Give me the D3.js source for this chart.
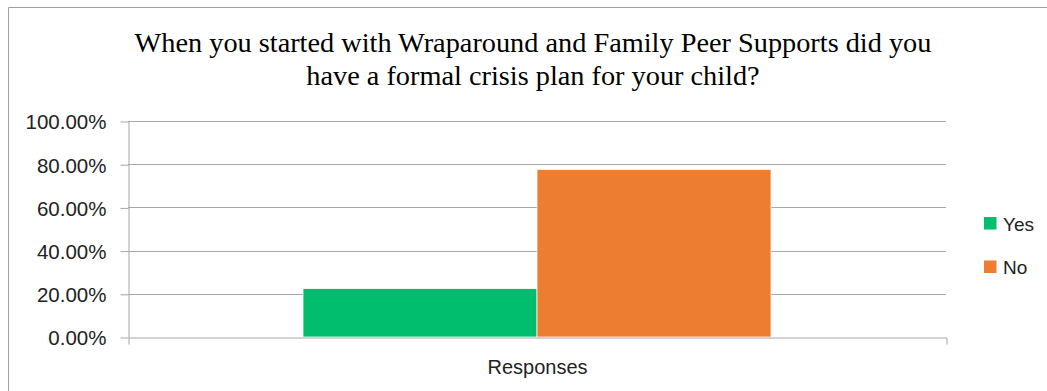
<!DOCTYPE html>
<html>
<head>
<meta charset="utf-8">
<script src="https://cdn.jsdelivr.net/npm/d3@7"></script>
<style>
  html, body { margin: 0; padding: 0; background: #fff; }
  svg { display: block; }
</style>
</head>
<body>
<svg id="chart" width="1047" height="391"></svg>
<script>
// ---- data ----
const categories = ["Responses"];
const seriesNames = ["Yes", "No"];
const seriesValues = [0.224, 0.776];
const seriesColors = ["#00be6e", "#ed7d31"];
const yTicks = [0, 0.2, 0.4, 0.6, 0.8, 1.0];
const titleLines = [
  "When you started with Wraparound and Family Peer Supports did you",
  "have a formal crisis plan for your child?"
];

// ---- layout ----
const svg = d3.select("#chart");
const plot = { left: 128, right: 946, top: 121, bottom: 337 };
const gridColor = "#a6a6a6";
const sans = "'Liberation Sans', Arial, sans-serif";

// chart frame (cropped on right/bottom in the reference)
svg.append("path")
  .attr("d", "M8.5,391V7.5H1047")
  .attr("fill", "none")
  .attr("stroke", "#a0a0a0")
  .attr("stroke-width", 1);

// title
svg.append("g").selectAll("text").data(titleLines).join("text")
  .attr("x", 533)
  .attr("y", (d, i) => 52 + i * 32.5)
  .attr("text-anchor", "middle")
  .attr("font-family", "'Liberation Serif', 'Times New Roman', serif")
  .attr("font-size", 28.3)
  .attr("fill", "#000")
  .text(d => d);

// scales
const y = d3.scaleLinear().domain([0, 1]).range([plot.bottom, plot.top]);
const x0 = d3.scaleBand().domain(categories).range([plot.left, plot.right])
  .paddingInner(0).paddingOuter(0.374);
const x1 = d3.scaleBand().domain(seriesNames).range([0, x0.bandwidth()]).padding(0);

// gridlines
svg.append("g").selectAll("line").data(yTicks.filter(t => t > 0)).join("line")
  .attr("x1", plot.left).attr("x2", plot.right)
  .attr("y1", d => Math.round(y(d)) + 0.5).attr("y2", d => Math.round(y(d)) + 0.5)
  .attr("stroke", gridColor).attr("stroke-width", 1);

// bars
const group = svg.append("g").selectAll("g").data(categories).join("g")
  .attr("transform", d => `translate(${x0(d)},0)`);
group.selectAll("rect")
  .data((d, ci) => seriesNames.map((s, si) => ({ s, v: seriesValues[si], c: seriesColors[si] })))
  .join("rect")
  .attr("x", d => x1(d.s))
  .attr("width", x1.bandwidth())
  .attr("y", d => y(d.v))
  .attr("height", d => y(0) - y(d.v))
  .attr("fill", d => d.c)
  .attr("stroke", "#fff")
  .attr("stroke-width", 0.75);

// y axis
const yAxis = svg.append("g")
  .attr("transform", `translate(${plot.left + 0.5},0.5)`)
  .call(d3.axisLeft(y).tickValues(yTicks).tickFormat(d3.format(".2%"))
    .tickSizeInner(8).tickSizeOuter(0).tickPadding(14));
yAxis.selectAll("path, line").attr("stroke", gridColor);
yAxis.selectAll("text")
  .attr("font-family", sans).attr("font-size", 20.5).attr("fill", "#222")
  .attr("dy", "0.36em");

// x axis
const xAxis = svg.append("g")
  .attr("transform", `translate(0.5,${plot.bottom + 0.5})`)
  .call(d3.axisBottom(x0).tickSizeInner(0).tickSizeOuter(7).tickPadding(22));
xAxis.selectAll("path, line").attr("stroke", gridColor);
xAxis.selectAll("text")
  .attr("font-family", sans).attr("font-size", 20).attr("fill", "#222");

// legend
const legend = svg.append("g").selectAll("g").data(seriesNames).join("g")
  .attr("transform", (d, i) => `translate(984,${217 + i * 43.5})`);
legend.append("rect").attr("width", 12.5).attr("height", 12.5)
  .attr("fill", (d, i) => seriesColors[i]);
legend.append("text")
  .attr("x", 19).attr("y", 13.5)
  .attr("font-family", sans).attr("font-size", 19)
  .attr("fill", "#222")
  .text(d => d);
</script>
</body>
</html>
